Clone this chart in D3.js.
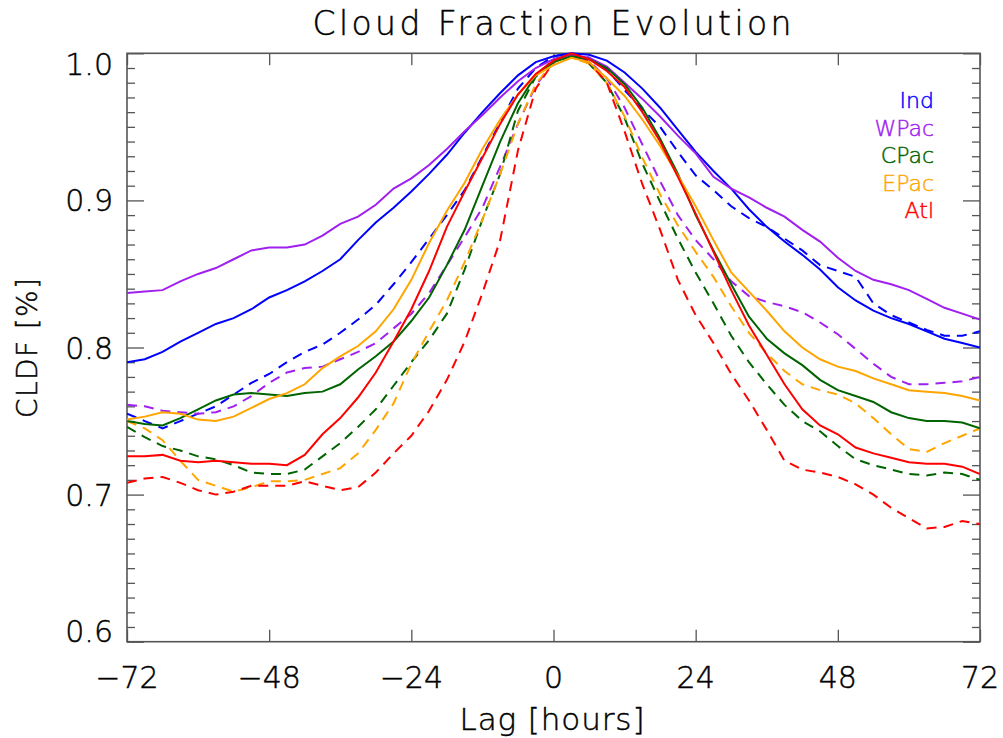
<!DOCTYPE html>
<html>
<head>
<meta charset="utf-8">
<script src="https://cdn.jsdelivr.net/npm/d3@7"></script>
<style>
  html, body { margin: 0; padding: 0; background: #fff; }
  svg { display: block; }
  text { font-family: "DejaVu Sans", sans-serif; font-weight: 200; }
</style>
</head>
<body>
<svg id="chart" width="1003" height="738"></svg>
<script>
// ---------- data ----------
const lags = [-72,-69,-66,-63,-60,-57,-54,-51,-48,-45,-42,-39,-36,-33,-30,-27,-24,-21,-18,-15,-12,-9,-6,-3,
              0,3,6,9,12,15,18,21,24,27,30,33,36,39,42,45,48,51,54,57,60,63,66,69,72];

const regions = ["Ind", "WPac", "CPac", "EPac", "Atl"];
const colors  = ["#0000ff", "#a020f0", "#006400", "#ffa500", "#ff0000"];

const indSolid  = [0.790,0.792,0.797,0.804,0.810,0.816,0.820,0.826,0.834,0.839,0.845,0.852,0.860,0.873,0.885,0.895,0.906,0.918,0.931,0.946,0.960,0.973,0.985,0.994,
                   0.998,1.000,0.999,0.995,0.987,0.976,0.963,0.948,0.933,0.920,0.908,0.894,0.882,0.872,0.863,0.853,0.841,0.832,0.825,0.820,0.816,0.811,0.806,0.803,0.800];
const wpacSolid = [0.837,0.838,0.839,0.845,0.850,0.854,0.860,0.866,0.868,0.868,0.870,0.876,0.884,0.889,0.897,0.908,0.915,0.924,0.935,0.947,0.958,0.970,0.981,0.990,
                   0.996,0.999,0.997,0.991,0.980,0.969,0.957,0.944,0.932,0.916,0.908,0.902,0.895,0.889,0.880,0.872,0.861,0.852,0.846,0.843,0.839,0.833,0.827,0.823,0.819];
const cpacSolid = [0.750,0.748,0.747,0.752,0.758,0.764,0.768,0.769,0.768,0.767,0.769,0.770,0.775,0.785,0.794,0.804,0.818,0.834,0.856,0.880,0.910,0.940,0.966,0.985,
                   0.994,0.998,0.996,0.990,0.979,0.963,0.942,0.918,0.890,0.866,0.843,0.821,0.806,0.796,0.788,0.778,0.771,0.767,0.763,0.756,0.752,0.750,0.750,0.749,0.745];
const epacSolid = [0.751,0.753,0.756,0.755,0.751,0.750,0.753,0.759,0.765,0.769,0.775,0.786,0.794,0.801,0.811,0.826,0.846,0.871,0.893,0.912,0.935,0.955,0.972,0.985,
                   0.992,0.997,0.994,0.983,0.971,0.955,0.937,0.917,0.896,0.873,0.851,0.838,0.825,0.811,0.800,0.792,0.787,0.784,0.779,0.775,0.771,0.770,0.769,0.767,0.764];
const atlSolid  = [0.726,0.726,0.727,0.723,0.722,0.723,0.722,0.721,0.721,0.720,0.727,0.741,0.752,0.766,0.783,0.804,0.826,0.852,0.882,0.906,0.929,0.952,0.972,0.986,
                   0.995,1.000,0.996,0.988,0.977,0.960,0.940,0.916,0.891,0.865,0.839,0.815,0.795,0.775,0.758,0.747,0.741,0.732,0.728,0.725,0.722,0.721,0.721,0.719,0.714];

const indDash   = [0.755,0.750,0.745,0.750,0.755,0.760,0.768,0.776,0.782,0.790,0.797,0.802,0.810,0.819,0.829,0.843,0.858,0.874,0.890,0.907,0.930,0.953,0.976,0.990,
                   0.998,1.000,0.997,0.989,0.975,0.962,0.950,0.933,0.917,0.907,0.896,0.888,0.882,0.874,0.866,0.856,0.852,0.848,0.830,0.822,0.817,0.812,0.808,0.808,0.811];
const wpacDash  = [0.761,0.760,0.757,0.756,0.755,0.756,0.760,0.767,0.776,0.783,0.786,0.787,0.792,0.797,0.803,0.813,0.823,0.837,0.856,0.875,0.895,0.923,0.952,0.978,
                   0.994,0.998,0.995,0.983,0.963,0.938,0.913,0.890,0.873,0.860,0.845,0.835,0.831,0.828,0.824,0.817,0.809,0.799,0.789,0.780,0.775,0.775,0.776,0.777,0.780];
const cpacDash  = [0.746,0.739,0.733,0.730,0.726,0.724,0.720,0.715,0.714,0.714,0.717,0.726,0.735,0.746,0.758,0.774,0.790,0.805,0.823,0.853,0.887,0.918,0.961,0.984,
                   0.996,0.999,0.993,0.980,0.956,0.925,0.899,0.874,0.851,0.830,0.808,0.790,0.775,0.761,0.750,0.743,0.733,0.724,0.720,0.717,0.714,0.713,0.715,0.714,0.710];
const epacDash  = [0.750,0.745,0.737,0.723,0.710,0.706,0.702,0.705,0.709,0.709,0.710,0.714,0.718,0.728,0.744,0.762,0.789,0.811,0.832,0.858,0.887,0.918,0.952,0.979,
                   0.994,0.997,0.993,0.980,0.957,0.929,0.904,0.883,0.865,0.848,0.828,0.810,0.796,0.784,0.775,0.771,0.768,0.762,0.752,0.741,0.731,0.729,0.735,0.740,0.745];
const atlDash   = [0.708,0.711,0.712,0.708,0.703,0.700,0.702,0.706,0.706,0.706,0.709,0.706,0.703,0.705,0.715,0.728,0.740,0.757,0.778,0.804,0.837,0.873,0.934,0.976,
                   0.994,0.999,0.994,0.980,0.947,0.911,0.880,0.846,0.822,0.803,0.782,0.764,0.744,0.723,0.717,0.715,0.712,0.707,0.700,0.691,0.684,0.677,0.678,0.682,0.680];

const solidSeries  = [indSolid, wpacSolid, cpacSolid, epacSolid, atlSolid];
const dashedSeries = [indDash, wpacDash, cpacDash, epacDash, atlDash];

const xTicks = [-72, -48, -24, 0, 24, 48, 72];
const yTicks = [0.6, 0.7, 0.8, 0.9, 1.0];

const titleText = "Cloud Fraction Evolution";
const xLabel = "Lag [hours]";
const yLabel = "CLDF [%]";

// ---------- layout ----------
const L = 127, R = 980, T = 53.3, B = 641.7;
const svg = d3.select("#chart");
svg.append("rect").attr("width", 1003).attr("height", 738).attr("fill", "#fff");

const x = d3.scaleLinear().domain([-72, 72]).range([L, R]);
const y = d3.scaleLinear().domain([0.6, 1.0]).range([B, T]);

const axisColor = "#555";
const ink = "#000";

// minor y ticks
const yMinor = y.ticks(40).filter(v => Math.abs(Math.round(v * 10) - v * 10) > 1e-6);

function styleAxis(g) {
  g.select(".domain").remove();
  g.selectAll(".tick line").attr("stroke", axisColor).attr("stroke-width", 1.3);
  g.selectAll(".tick text").remove();
}

// left axis ticks (inward)
svg.append("g").attr("transform", `translate(${L},0)`)
  .call(d3.axisRight(y).tickValues(yTicks).tickSize(17)).call(styleAxis);
svg.append("g").attr("transform", `translate(${L},0)`)
  .call(d3.axisRight(y).tickValues(yMinor).tickSize(8)).call(styleAxis);
// right axis ticks (inward)
svg.append("g").attr("transform", `translate(${R},0)`)
  .call(d3.axisLeft(y).tickValues(yTicks).tickSize(17)).call(styleAxis);
svg.append("g").attr("transform", `translate(${R},0)`)
  .call(d3.axisLeft(y).tickValues(yMinor).tickSize(8)).call(styleAxis);
// bottom / top x ticks (inward)
svg.append("g").attr("transform", `translate(0,${B})`)
  .call(d3.axisTop(x).tickValues(xTicks).tickSize(12)).call(styleAxis);
svg.append("g").attr("transform", `translate(0,${T})`)
  .call(d3.axisBottom(x).tickValues(xTicks).tickSize(12)).call(styleAxis);

// frame
svg.append("rect").attr("x", L).attr("y", T).attr("width", R - L).attr("height", B - T)
  .attr("fill", "none").attr("stroke", axisColor).attr("stroke-width", 1.6);

function ink_(sel, c) {
  return sel.style("fill", c).style("stroke", c).style("stroke-width", 0.45);
}

// tick labels (centred on tick, kept inside plot height)
ink_(svg.append("g").selectAll("text").data(yTicks).join("text")
  .attr("x", L - 14)
  .attr("y", d => Math.min(B - 11, Math.max(T + 11, y(d))) + 11)
  .attr("text-anchor", "end").attr("font-size", 30)
  .text(d => d.toFixed(1)), ink);

ink_(svg.append("g").selectAll("text").data(xTicks).join("text")
  .attr("x", d => x(d)).attr("y", B + 46)
  .attr("text-anchor", "middle").attr("font-size", 30)
  .text(d => d < 0 ? "\u2212" + Math.abs(d) : String(d)), ink);

// titles
ink_(svg.append("text").attr("x", 552).attr("y", 35).attr("text-anchor", "middle")
  .attr("font-size", 33).attr("textLength", 479).attr("lengthAdjust", "spacing")
  .text(titleText), ink);
ink_(svg.append("text").attr("x", 552).attr("y", 730).attr("text-anchor", "middle")
  .attr("font-size", 31).attr("textLength", 185).attr("lengthAdjust", "spacing")
  .text(xLabel), ink);
ink_(svg.append("text").attr("transform", "translate(37,348) rotate(-90)").attr("text-anchor", "middle")
  .attr("font-size", 28).attr("textLength", 140).attr("lengthAdjust", "spacing")
  .text(yLabel), ink);

// lines
svg.append("clipPath").attr("id", "plotclip").append("rect")
  .attr("x", L).attr("y", T - 3).attr("width", R - L).attr("height", B - T + 3);

const line = d3.line().x((d, i) => x(lags[i])).y(d => y(d));
const gLines = svg.append("g").attr("clip-path", "url(#plotclip)");

dashedSeries.forEach((s, k) => {
  gLines.append("path").datum(s).attr("d", line)
    .attr("fill", "none").attr("stroke", colors[k]).attr("stroke-width", 2)
    .attr("stroke-dasharray", "10,7");
});
solidSeries.forEach((s, k) => {
  gLines.append("path").datum(s).attr("d", line)
    .attr("fill", "none").attr("stroke", colors[k]).attr("stroke-width", 2);
});

// legend
svg.append("g").selectAll("text").data(regions).join("text")
  .attr("x", 934).attr("y", (d, i) => 108.3 + i * 27.5)
  .attr("text-anchor", "end").attr("font-size", 22)
  .style("fill", (d, i) => colors[i]).style("stroke", (d, i) => colors[i]).style("stroke-width", 0.45)
  .text(d => d);
</script>
</body>
</html>
